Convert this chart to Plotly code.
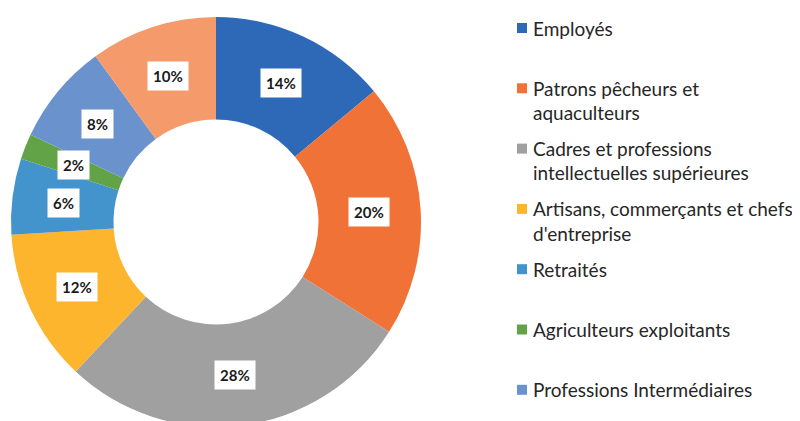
import math
import plotly.graph_objects as go

categories = [
    "Employés",
    "Patrons pêcheurs et aquaculteurs",
    "Cadres et professions intellectuelles supérieures",
    "Artisans, commerçants et chefs d'entreprise",
    "Retraités",
    "Agriculteurs exploitants",
    "Professions Intermédiaires",
    "Ouvriers",
]
shares = [14, 20, 28, 12, 6, 2, 8, 10]
legend_lines = [
    ["Employés"],
    ["Patrons pêcheurs et", "aquaculteurs"],
    ["Cadres et professions", "intellectuelles supérieures"],
    ["Artisans, commerçants et chefs", "d'entreprise"],
    ["Retraités"],
    ["Agriculteurs exploitants"],
    ["Professions Intermédiaires"],
]
colors = ["#2E69B7", "#F07237", "#A0A0A0", "#FDB52E", "#4393CD", "#62A347", "#6A92CC", "#F59A6B"]

W, H = 800, 421
OFF = 8  # page body margin
cx, cy, R = 216 - OFF, 222 - OFF, 205
hole = 0.5

fig = go.Figure(go.Pie(
    labels=categories, values=shares, hole=hole, sort=False,
    direction="clockwise", rotation=0,
    marker=dict(colors=colors, line=dict(width=0)),
    textinfo="none", hoverinfo="label+percent", showlegend=False,
    domain=dict(x=[(cx - R) / W, (cx + R) / W], y=[(H - cy - R) / H, (H - cy + R) / H]),
))

annotations = []
total = sum(shares)
cum = 0
rmid = R * (1 + hole) / 2
for v in shares:
    ang = 2 * math.pi * (cum + v / 2) / total
    cum += v
    px = cx + rmid * math.sin(ang)
    py = cy - rmid * math.cos(ang)
    annotations.append(dict(
        x=px / W, y=1 - py / H, xref="paper", yref="paper",
        text=f"<b>{round(100 * v / total)}%</b>", showarrow=False,
        bgcolor="white", borderpad=5,
        font=dict(family="Lato", size=15, color="#1a1a1a"),
        xanchor="center", yanchor="middle",
    ))

shapes = []
y0, pitch, lh = 28 - OFF, 60.3, 24.3
for k, lines in enumerate(legend_lines):
    ybase = y0 + pitch * k
    shapes.append(dict(
        type="rect", xref="paper", yref="paper",
        x0=(517 - OFF) / W, x1=(527 - OFF) / W,
        y0=1 - (ybase + 5) / H, y1=1 - (ybase - 5) / H,
        fillcolor=colors[k], line=dict(width=0),
    ))
    for j, line in enumerate(lines):
        annotations.append(dict(
            x=(531 - OFF) / W, y=1 - (ybase + j * lh) / H, xref="paper", yref="paper",
            text=line, showarrow=False, xanchor="left", yanchor="middle",
            font=dict(family="Lato", size=19, color="#262626"),
        ))

fig.update_layout(
    width=W, height=H,
    margin=dict(l=0, r=0, t=0, b=0),
    paper_bgcolor="white", plot_bgcolor="white",
    annotations=annotations, shapes=shapes,
)
fig.write_html("out.html")
